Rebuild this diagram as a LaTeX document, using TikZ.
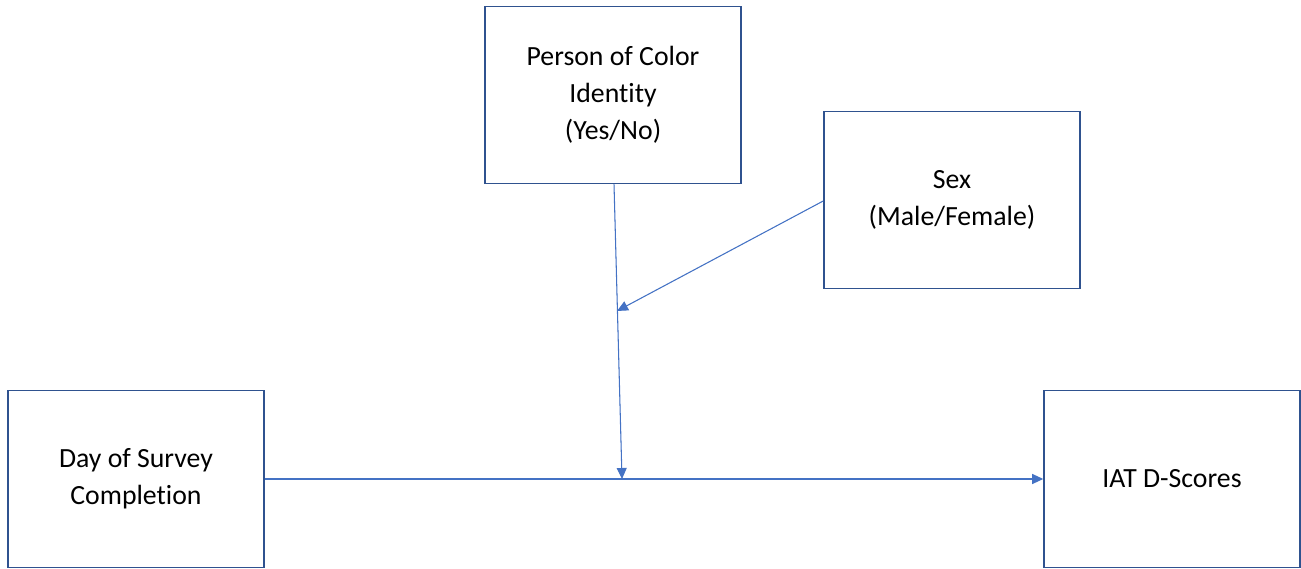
\documentclass[tikz,border=0pt]{standalone}
\usepackage{fontspec}
\setmainfont[Ligatures={NoCommon}]{Carlito}
\usetikzlibrary{arrows.meta,positioning}
\definecolor{colorBOX}{HTML}{2F528F}
\definecolor{colorARR}{HTML}{4472C4}
\tikzset{
   every path/.style={>={Triangle[length=2.2mm,width=2mm]}},
   box/.style={rectangle, draw=colorBOX, line width=0.9pt, minimum width=5.12cm, minimum height=3.54cm, align=center, font=\fontsize{15.8}{21}\selectfont},
   arr/.style={->, draw=colorARR, fill=colorARR, line width=0.6pt},
}
\begin{document}
\begin{tikzpicture}
  \useasboundingbox (0,0) rectangle (26.02,11.38);
  \node [box] (poc) at (12.26,9.48) {Person of Color\\ Identity\\ (Yes/No)};
  \node [box] (sex) at (19.04,7.38) {Sex\\ (Male/Female)};
  \node [box] (day) at (2.72,1.8) {Day of Survey\\ Completion};
  \node [box] (iat) at (23.44,1.8) {IAT D-Scores};

  \coordinate (mid) at (12.44,1.8);
  \coordinate (mod) at (12.34,5.16);

  \draw [arr] (day) -- (iat);
  \draw [arr] (poc.south) ++(0.02,0) coordinate (pocb) -- (mid);
  \draw [arr] (sex.west) ++(0,-0.02) coordinate (sexw) -- (mod);
\end{tikzpicture}
\end{document}
